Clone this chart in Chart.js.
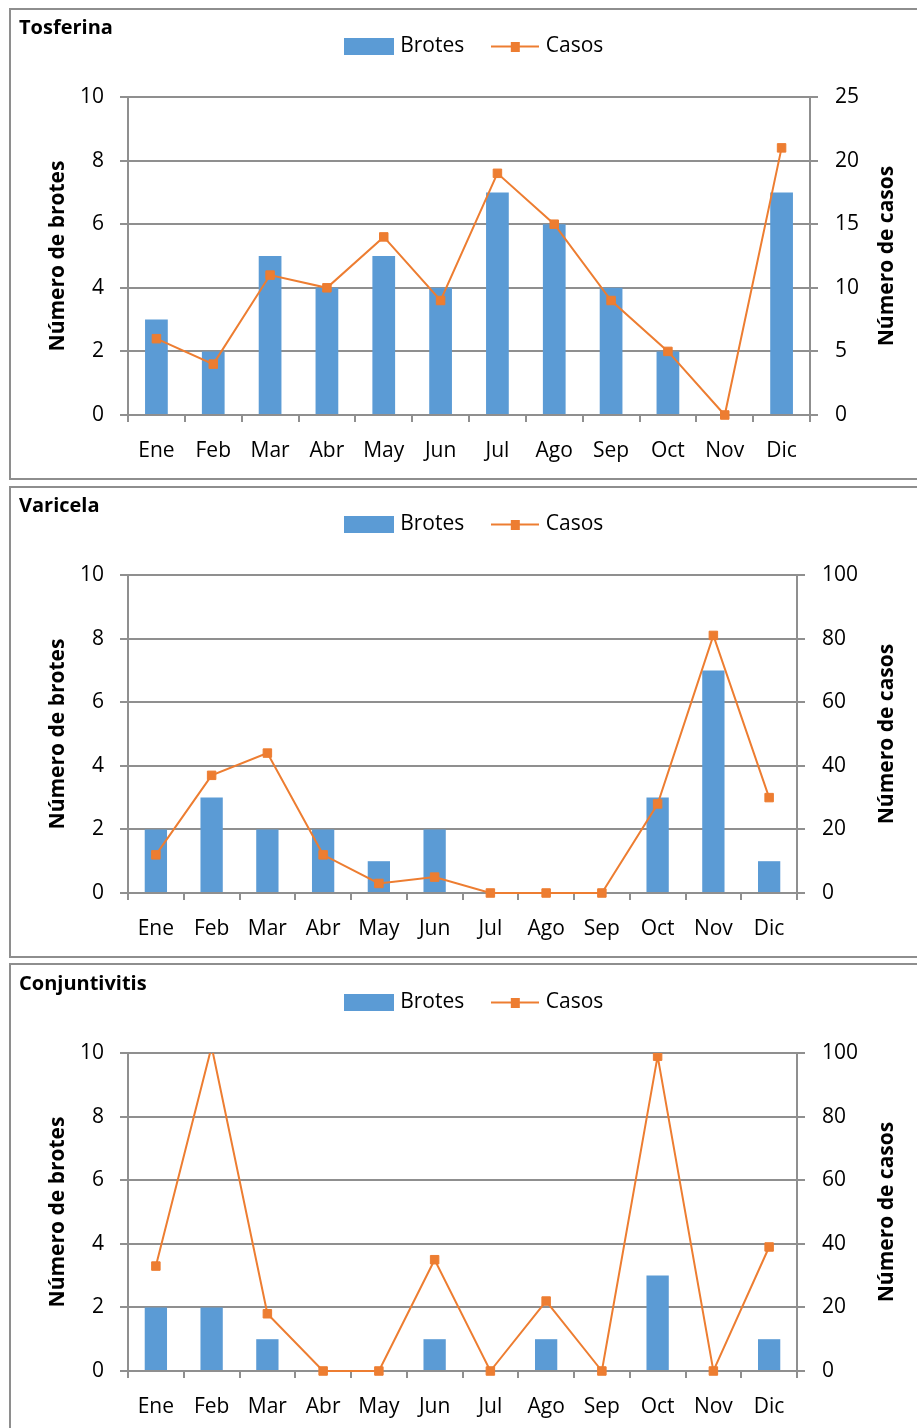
<!DOCTYPE html>
<html lang="es">
<head>
<meta charset="utf-8">
<title>Brotes y casos por mes</title>
<script src="https://cdn.jsdelivr.net/npm/chart.js@4.4.1/dist/chart.umd.min.js"></script>
<style>
  html, body { margin: 0; padding: 0; background: #fff; }
  body { width: 917px; height: 1428px; overflow: hidden; position: relative; }
  .panel { position: absolute; left: 9px; width: 940px; height: 472px; border: 2px solid #8e8e8e; box-sizing: border-box; background: #fff; }
  canvas.chart { position: absolute; left: 10px; }
</style>
</head>
<body>
<div class="panel" style="top:8px"></div>
<div class="panel" style="top:486px"></div>
<div class="panel" style="top:963px"></div>
<canvas id="tosferina" class="chart" width="907" height="469" style="top:9px"></canvas>
<canvas id="varicela" class="chart" width="907" height="469" style="top:487px"></canvas>
<canvas id="conjuntivitis" class="chart" width="907" height="469" style="top:965px"></canvas>
<script>
// Meses del año
const meses = ['Ene', 'Feb', 'Mar', 'Abr', 'May', 'Jun', 'Jul', 'Ago', 'Sep', 'Oct', 'Nov', 'Dic'];

// Tosferina
const tosferinaBrotes = [3, 2, 5, 4, 5, 4, 7, 6, 4, 2, 0, 7];
const tosferinaCasos  = [6, 4, 11, 10, 14, 9, 19, 15, 9, 5, 0, 21];

// Varicela
const varicelaBrotes = [2, 3, 2, 2, 1, 2, 0, 0, 0, 3, 7, 1];
const varicelaCasos  = [12, 37, 44, 12, 3, 5, 0, 0, 0, 28, 81, 30];

// Conjuntivitis (febrero queda por encima del máximo del eje)
const conjuntivitisBrotes = [2, 2, 1, 0, 0, 1, 0, 1, 0, 3, 0, 1];
const conjuntivitisCasos  = [33, 102, 18, 0, 0, 35, 0, 22, 0, 99, 0, 39];

// Escalas de los ejes
const brotesEje = { max: 10, step: 2 };
const tosferinaCasosEje = { max: 25, step: 5 };
const casosEje = { max: 100, step: 20 };

const FONT = "'Open Sans', 'DejaVu Sans', sans-serif";
const BAR_COLOR = '#5B9BD5';
const LINE_COLOR = '#ED7D31';
const GRID_COLOR = '#8f8f8f';
const TEXT_COLOR = '#000';

// Small images used as legend keys: a solid block for the bars,
// a line with a square marker for the line series.
function keyImage(w, h, paint) {
  const c = document.createElement('canvas');
  c.width = w; c.height = h;
  paint(c.getContext('2d'), w, h);
  return c;
}
const barKey = keyImage(50, 17, (g, w, h) => { g.fillStyle = BAR_COLOR; g.fillRect(0, 0, w, h); });
const lineKey = keyImage(48, 10, (g, w, h) => {
  g.fillStyle = LINE_COLOR;
  g.fillRect(0, 4, w, 2);
  g.fillRect(20, 0, 9, 10);
});

// Right-hand axis title, read bottom to top like the left one.
const rightTitle = {
  id: 'rightTitle',
  afterDraw(chart, args, opts) {
    const { ctx, chartArea } = chart;
    ctx.save();
    ctx.translate(opts.x, (chartArea.top + chartArea.bottom) / 2);
    ctx.rotate(-Math.PI / 2);
    ctx.font = 'bold 21px ' + FONT;
    ctx.fillStyle = TEXT_COLOR;
    ctx.textAlign = 'center';
    ctx.textBaseline = 'middle';
    ctx.fillText(opts.text, 0, 0);
    ctx.restore();
  }
};

function makePanel(id, titulo, brotes, casos, casosAxis, plotRight, clip) {
  const W = 907, padL = 9, padR = -16;
  const tickFont = { family: FONT, size: 21 };
  return new Chart(document.getElementById(id), {
    type: 'bar',
    data: {
      labels: meses,
      datasets: [
        {
          type: 'line', label: 'Casos', data: casos, yAxisID: 'y1', order: 1,
          borderColor: LINE_COLOR, backgroundColor: LINE_COLOR, borderWidth: 2,
          pointStyle: 'rect', pointRadius: 6, pointBorderWidth: 1,
          pointBackgroundColor: LINE_COLOR, pointBorderColor: LINE_COLOR,
          tension: 0, clip: clip
        },
        {
          type: 'bar', label: 'Brotes', data: brotes, yAxisID: 'y', order: 2,
          backgroundColor: BAR_COLOR, barPercentage: 0.4, categoryPercentage: 1
        }
      ]
    },
    plugins: [rightTitle],
    options: {
      responsive: false,
      animation: false,
      events: [],
      devicePixelRatio: 1,
      layout: { padding: { left: padL, right: padR, top: -3, bottom: 0 } },
      plugins: {
        tooltip: { enabled: false },
        title: {
          display: true, text: titulo, align: 'start', weight: 500,
          color: TEXT_COLOR, font: { family: FONT, size: 20, weight: 'bold', lineHeight: 1.2 },
          padding: { top: -51, bottom: 57 }
        },
        legend: {
          display: true, position: 'top', align: 'center',
          labels: {
            usePointStyle: true, pointStyleWidth: 41, padding: 30,
            color: TEXT_COLOR, font: { family: FONT, size: 21 },
            generateLabels: () => [
              { text: 'Brotes', pointStyle: barKey, fillStyle: BAR_COLOR, strokeStyle: BAR_COLOR, lineWidth: 0, hidden: false, datasetIndex: 1, fontColor: TEXT_COLOR },
              { text: 'Casos', pointStyle: lineKey, fillStyle: LINE_COLOR, strokeStyle: LINE_COLOR, lineWidth: 0, hidden: false, datasetIndex: 0, fontColor: TEXT_COLOR }
            ]
          }
        },
        rightTitle: { x: 877, text: 'Número de casos' }
      },
      scales: {
        x: {
          grid: { drawOnChartArea: false, drawTicks: true, tickLength: 7, offset: true, color: GRID_COLOR, lineWidth: 2 },
          border: { display: true, color: GRID_COLOR, width: 2 },
          ticks: { color: TEXT_COLOR, font: tickFont, padding: 16, maxRotation: 0, autoSkip: false },
          afterFit(s) { s.height = 63; }
        },
        y: {
          position: 'left', min: 0, max: brotesEje.max,
          ticks: { stepSize: brotesEje.step, color: TEXT_COLOR, font: tickFont, padding: 16 },
          grid: { color: GRID_COLOR, lineWidth: 2, tickLength: 8, drawTicks: true },
          border: { display: true, color: GRID_COLOR, width: 2 },
          title: {
            display: true, text: 'Número de brotes', color: TEXT_COLOR,
            font: { family: FONT, size: 21, weight: 'bold' }, padding: { top: 26, bottom: 0 }
          },
          afterFit(s) { s.width = 118 - padL; }
        },
        y1: {
          position: 'right', min: 0, max: casosAxis.max,
          ticks: { stepSize: casosAxis.step, color: TEXT_COLOR, font: tickFont, padding: 17 },
          grid: { drawOnChartArea: false, color: GRID_COLOR, lineWidth: 2, tickLength: 8, drawTicks: true },
          border: { display: true, color: GRID_COLOR, width: 2 },
          afterFit(s) { s.width = W - padR - plotRight; }
        }
      }
    }
  });
}

makePanel('tosferina', 'Tosferina', tosferinaBrotes, tosferinaCasos, tosferinaCasosEje, 800, false);
makePanel('varicela', 'Varicela', varicelaBrotes, varicelaCasos, casosEje, 787, false);
makePanel('conjuntivitis', 'Conjuntivitis', conjuntivitisBrotes, conjuntivitisCasos, casosEje, 787,
  { left: false, right: false, top: 0, bottom: false });
</script>
</body>
</html>
